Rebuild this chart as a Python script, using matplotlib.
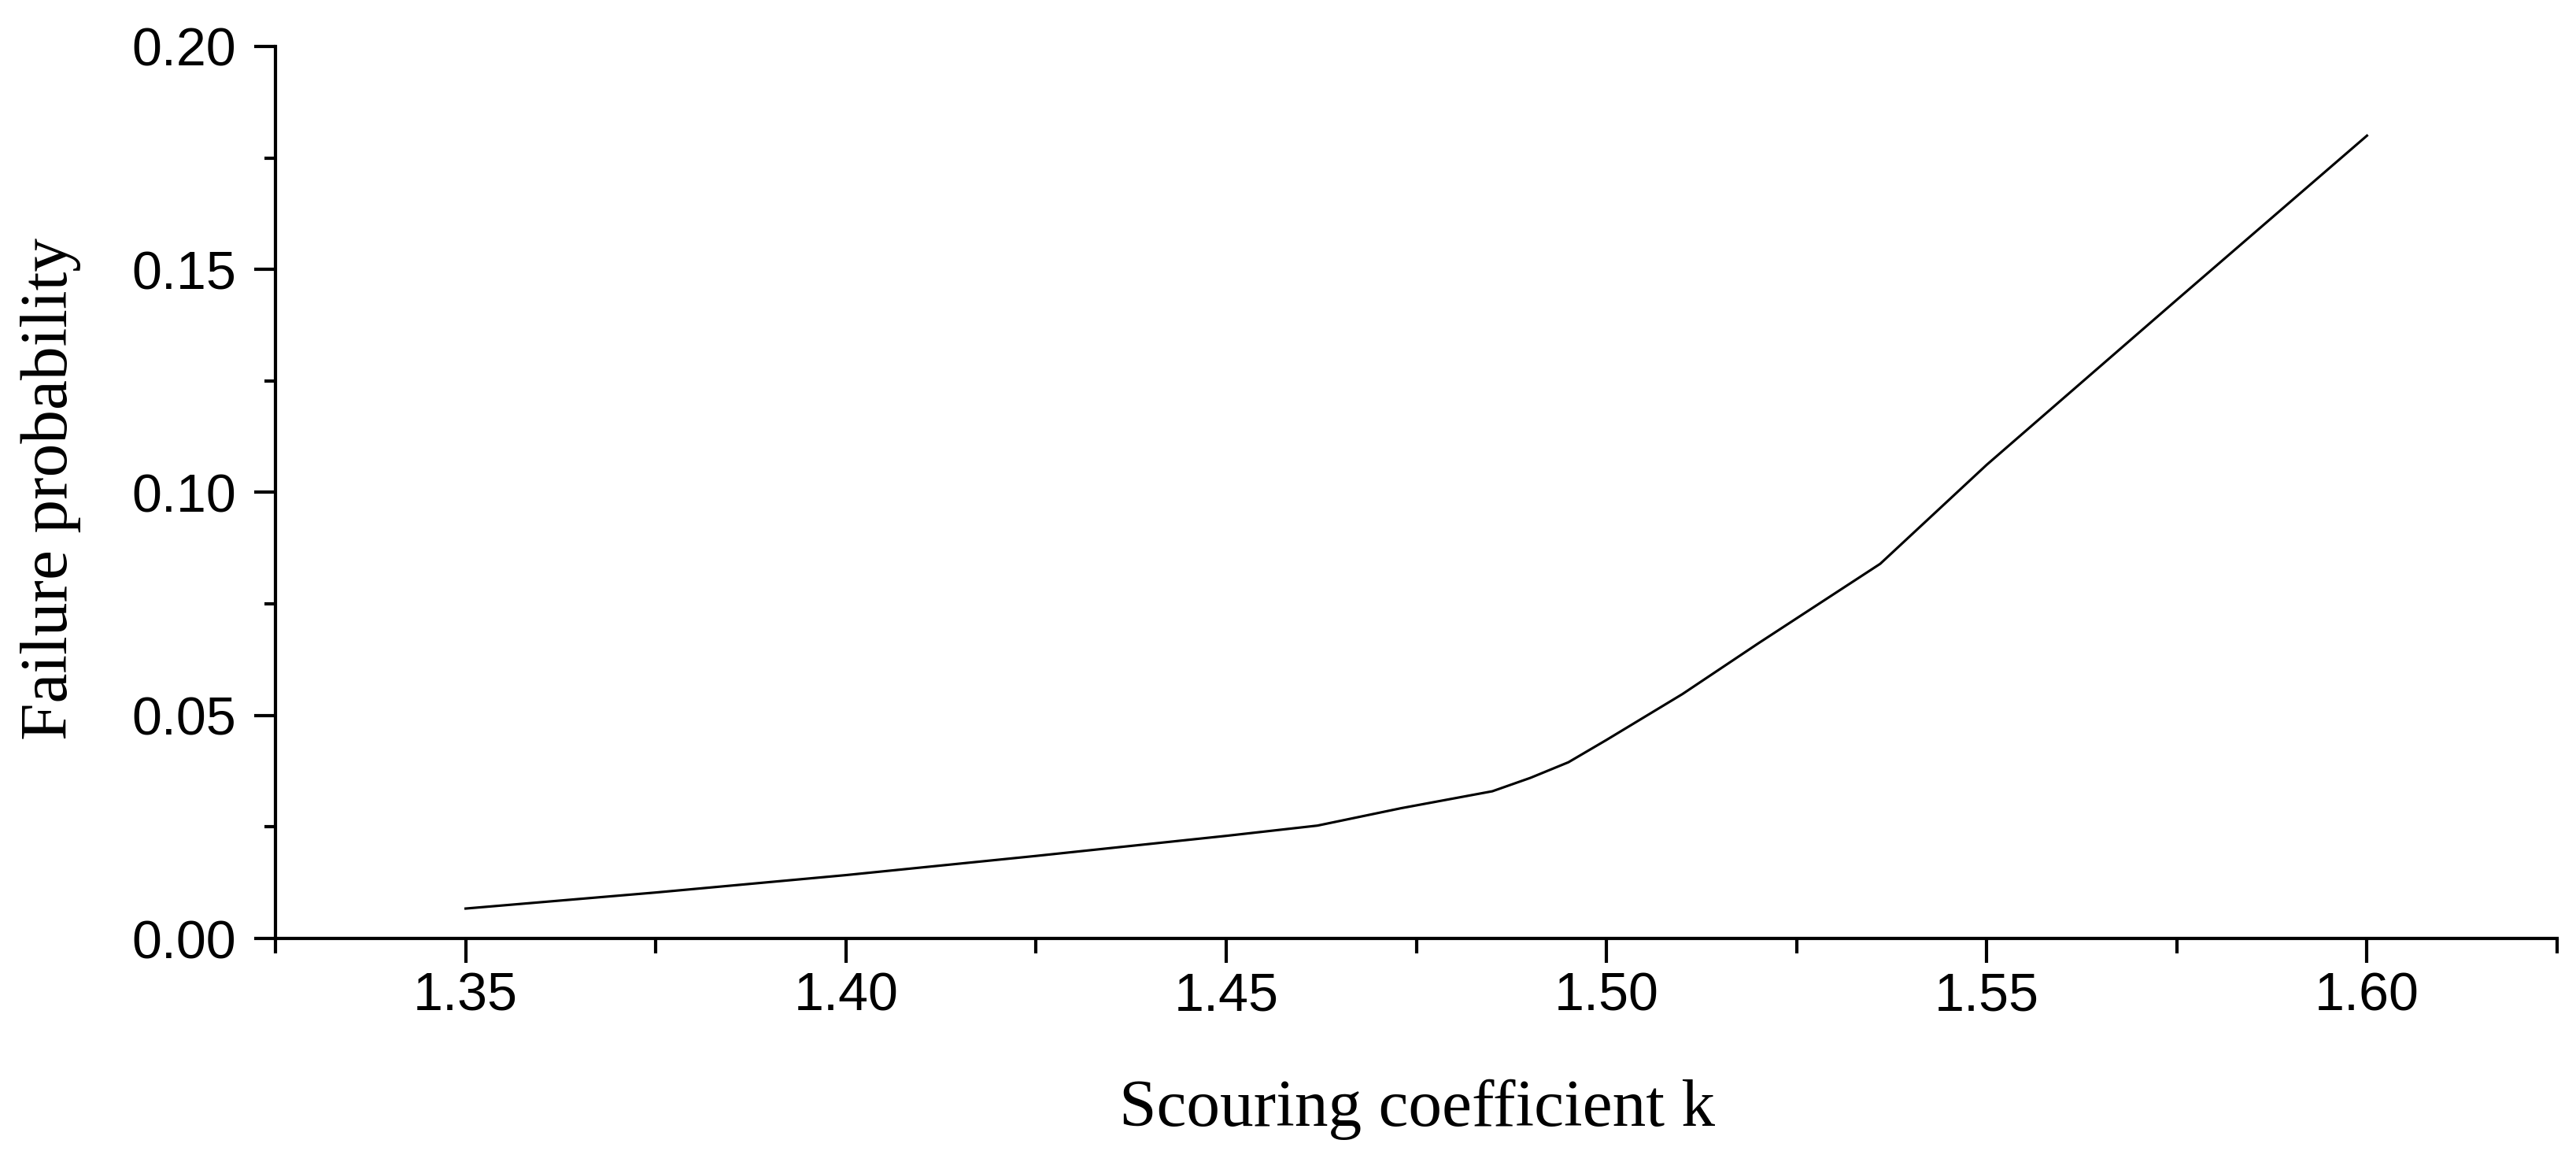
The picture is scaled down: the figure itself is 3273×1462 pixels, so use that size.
import matplotlib
matplotlib.use("Agg")
import matplotlib.pyplot as plt
from matplotlib.ticker import MultipleLocator, FormatStrFormatter

# scouring coefficient k vs failure probability
k_values = [1.35, 1.375, 1.40, 1.425, 1.45, 1.462, 1.473, 1.485, 1.49, 1.495,
            1.50, 1.51, 1.52, 1.536, 1.55, 1.575, 1.60]
failure_prob = [0.0067, 0.0103, 0.0142, 0.0185, 0.0230, 0.0253, 0.0292, 0.0330, 0.0360, 0.0395,
                0.0445, 0.0548, 0.0662, 0.0840, 0.1062, 0.1432, 0.1800]

x_label = "Scouring coefficient k"
y_label = "Failure probability"

W, H = 3273, 1462
DPI = 300

fig = plt.figure(figsize=(W / DPI, H / DPI), dpi=DPI)
# axes box in pixels: left 350, right 3249, top 59, bottom 1192
ax = fig.add_axes([350 / W, 1 - 1192 / H, (3249 - 350) / W, (1192 - 59) / H])

ax.plot(k_values, failure_prob, color='black', linewidth=0.75)

ax.set_xlim(1.325, 1.625)
ax.set_ylim(0, 0.20)

ax.spines['top'].set_visible(False)
ax.spines['right'].set_visible(False)
for side in ['left', 'bottom']:
    ax.spines[side].set_linewidth(1.0)

ax.xaxis.set_major_locator(MultipleLocator(0.05))
ax.xaxis.set_minor_locator(MultipleLocator(0.025))
ax.yaxis.set_major_locator(MultipleLocator(0.05))
ax.yaxis.set_minor_locator(MultipleLocator(0.025))
ax.xaxis.set_major_formatter(FormatStrFormatter('%.2f'))
ax.yaxis.set_major_formatter(FormatStrFormatter('%.2f'))

ax.tick_params(axis='x', which='major', direction='out', length=7.4, width=1.0, pad=2.5)
ax.tick_params(axis='x', which='minor', direction='out', length=4.5, width=1.0)
ax.tick_params(axis='y', which='major', direction='out', length=6.5, width=1.0, pad=5.5)
ax.tick_params(axis='y', which='minor', direction='out', length=3.4, width=1.0)

for lbl in ax.get_xticklabels() + ax.get_yticklabels():
    lbl.set_fontfamily('Liberation Sans')
    lbl.set_fontsize(16.4)

fig.text(1800 / W, 1 - 1430 / H, x_label, family='Liberation Serif', fontsize=20.5,
         ha='center', va='baseline')
fig.text(85 / W, 1 - 621 / H, y_label, family='Liberation Serif', fontsize=20.5,
         rotation=90, rotation_mode='anchor', ha='center', va='baseline')

fig.savefig('out.png', dpi=DPI, facecolor='white')
